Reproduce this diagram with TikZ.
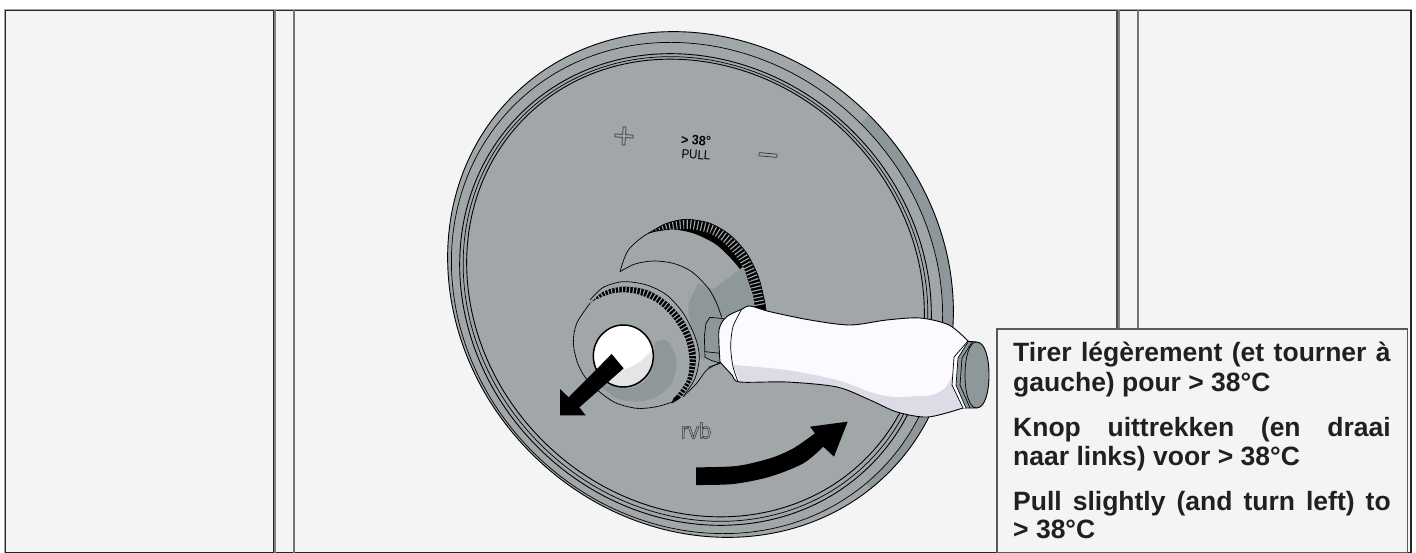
\documentclass[tikz,border=0pt]{standalone}
\usepackage{fontspec}
\usetikzlibrary{calc}
\setmainfont{Liberation Sans}
\definecolor{paper}{HTML}{F4F4F4}
\definecolor{metal}{HTML}{A1A6A9}
\definecolor{metald}{HTML}{8E9799}
\definecolor{white1}{HTML}{FBFAFF}
\definecolor{lav}{HTML}{DDDBE6}
\definecolor{ink}{HTML}{231F20}
\newcommand{\discouter}{(700.5,284.5) ellipse [x radius=266,y radius=239,rotate=-45]}
\newcommand{\rimB}{(697,288) ellipse [x radius=258.5,y radius=232,rotate=-45]}
\tikzset{
  edge/.style={draw=black,line width=.9pt},
  thinline/.style={draw=black,line width=.7pt},
  zfive/.style={shift={(540,200)},scale=0.33333},
  ztwo/.style={shift={(520,270)},scale=0.33333},
  bodytext/.style={anchor=base west,inner sep=0pt,font=\fontsize{26.5}{30}\selectfont\bfseries,text=ink},
  teeth/.style={draw=metal,line width=11pt,dash pattern=on 1.1pt off 2.5pt},
}
\begin{document}
\begin{tikzpicture}[x=1pt,y=-1pt]
\useasboundingbox (0,0) rectangle (1416,553);
\fill[white] (0,0) rectangle (1416,553);
% frame
\coordinate (ftl) at (5,10);\coordinate (fbr) at (1411,553);
\draw[draw=gray!70,line width=2.4pt,fill=paper] (ftl) rectangle (fbr);
\draw[draw=black!85,line width=1.2pt] ($(ftl)+(0.5,0.5)$) rectangle (fbr);
\foreach \xa/\cola/\wa in {275/gray/2,273.5/black!85/1.2,294/black!55/1.6,1118.5/gray/2,1117/black!70/1.4,1138/black!55/1.6}{
  \draw[draw=\cola,line width=\wa pt] (\xa,10) -- (\xa,553);
}
% disc
\fill[metal] \discouter;
\begin{scope}
  \clip (700,285) -- (872,112) -- (1000,150) -- (1000,520) -- (880,500) -- cycle;
  \fill[metald] \discouter;
\end{scope}
\fill[metal] \rimB;
\draw[edge] \discouter;
\draw[thinline] \rimB;
\draw[edge] (695.5,289.5) ellipse [x radius=248,y radius=223,rotate=-45];
\draw[thinline] (695.5,289) ellipse [x radius=244.5,y radius=219.5,rotate=-45];
\draw[edge] (695.5,288) ellipse [x radius=241,y radius=216,rotate=-45];
% markings
\node (gt) at (696,140.5) [inner sep=0pt,rotate=-4,xscale=.93,font=\fontsize{13.5}{14}\selectfont\bfseries,text=black] {> 38°};
\node (pull) at (696,155) [inner sep=0pt,rotate=-4,xscale=.89,font=\fontsize{13}{13}\selectfont,text=black] {PULL};
\draw[draw=black!80,line width=.7pt,shift={(624,136)},rotate=-4]
 (-1.5,-9) -- (1.5,-9) -- (1.5,-1.5) -- (9,-1.5) -- (9,1.5) -- (1.5,1.5) -- (1.5,9) -- (-1.5,9) -- (-1.5,1.5) -- (-9,1.5) -- (-9,-1.5) -- (-1.5,-1.5) -- cycle;
\draw[draw=black!80,line width=.7pt,shift={(768,155)},rotate=-5] (-9,-1.6) rectangle (9,1.6);
\node (logo) at (696,430.5) [inner sep=0pt,font=\fontsize{22}{23}\selectfont,text=black!80] {\special{pdf:code 1 Tr 0.5 w}rvb\special{pdf:code 0 Tr}};
% knob back
\begin{scope}[zfive]
  \fill[metal] plot[smooth] coordinates {(240,215)(265,150)(325,100)(390,88)(460,100)(530,135)(590,195)(630,260)(640,330)} -- (560,500) -- (400,600) -- (150,400) -- cycle;
  \begin{scope}
  \clip plot[smooth] coordinates {(325,100)(380,70)(440,58)(510,70)(570,105)(620,160)(655,230)(675,310)(678,340)} -- plot[smooth] coordinates {(640,330)(630,260)(590,195)(530,135)(460,100)(390,88)(325,100)} -- cycle;
  \fill[black] (300,40) rectangle (700,350);
  \draw[teeth] plot[smooth] coordinates {(325,96)(385,76)(445,70)(515,85)(565,118)(610,172)(642,240)(660,320)};
  \end{scope}
  \draw[thinline] plot[smooth] coordinates {(240,215)(265,150)(325,100)(390,88)};
  \draw[thinline] plot[smooth] coordinates {(325,100)(380,70)(440,58)(510,70)(570,105)(620,160)(655,230)(675,310)(678,340)};
  % facet
  \fill[metald] (610,200) -- (640,290) -- (645,335) -- (550,350) -- (500,370) -- (495,480) -- (470,470) -- (445,340) -- (445,310) -- (475,250) -- (520,268) -- cycle;
  \draw[thinline] plot[smooth] coordinates {(240,215)(285,192)(340,183)(400,190)(455,215)(505,265)(530,310)(545,352)};
  \draw[thinline] plot[smooth] coordinates {(535,490)(500,510)(470,550)(430,590)};
  % collar
  \fill[metal] plot[smooth cycle] coordinates {(150,300)(190,262)(250,245)(320,255)(380,285)(430,340)(465,410)(478,470)(465,535)(430,590)(350,625)(220,605)(130,500)};
  \draw[thinline] plot[smooth] coordinates {(150,300)(190,262)(250,245)(320,255)(380,285)(430,340)(465,410)(478,470)(465,535)(430,590)};
  % teeth band
  \begin{scope}
  \clip plot[smooth] coordinates {(150,310)(190,275)(250,260)(320,270)(380,305)(430,360)(460,425)(468,480)(455,540)(425,590)(395,610)} -- plot[smooth] coordinates {(400,595)(440,540)(448,480)(435,415)(395,350)(345,305)(280,280)(220,280)(175,300)(150,315)} -- cycle;
  \fill[black] (130,240) rectangle (490,620);
  \draw[teeth,line width=9pt] plot[smooth] coordinates {(150,312)(195,278)(250,270)(320,282)(385,327)(432,388)(455,452)(458,480)(448,540)(415,592)};
  \end{scope}
  % front face
  \fill[metal] plot[smooth cycle] coordinates {(100,430)(110,370)(150,310)(220,280)(280,280)(345,305)(395,350)(435,415)(448,480)(440,540)(400,595)(350,620)(290,625)(220,605)(150,550)(115,495)};
  \draw[draw=black,line width=.8pt,dash pattern=on 2.6pt off .5pt] plot[smooth] coordinates {(150,310)(110,370)(100,430)(115,495)(150,550)(220,605)(290,625)(350,620)(400,605)};
  % shade
  \fill[metald] plot[smooth] coordinates {(345,425)(375,420)(395,440)(410,490)(395,550)(350,590)(290,605)(230,595)(185,560)} -- plot[smooth] coordinates {(220,555)(270,565)(320,540)(340,490)(345,425)} -- cycle;
  % hole
  \fill[white] (250,468) ellipse [x radius=90,y radius=93];
  \begin{scope}
  \clip (250,468) ellipse [x radius=90,y radius=93];
  \fill[black!10] plot[smooth] coordinates {(345,440)(300,485)(250,510)(165,530)} -- (165,600) -- (360,600) -- cycle;
  \end{scope}
  \draw[draw=black,line width=1.5pt] (250,468) ellipse [x radius=90,y radius=93];
  % straight arrow
  \fill[black] (215,462) -- (251,505) -- (118,622) -- (137,646) -- (60,646) -- (60,567) -- (86,592) -- cycle;
\end{scope}
% stub
\begin{scope}[ztwo]
  \fill[metald] (570,142) -- (612,146) -- (612,282) -- (575,272) -- (555,262) -- (553,200) -- (558,160) -- cycle;
  \draw[thinline] (612,146) -- (570,142) -- (558,160) -- (553,200) -- (555,262) -- (575,272) -- (612,282);
  \draw[thinline] (555,245) -- (600,250);
  \draw[thinline] (565,292) -- (600,280);
\end{scope}
% handle
\fill[metald] (964,341) -- (976.5,342) .. controls (985,342) and (989,358) .. (989,375) .. controls (989,392) and (985,408) .. (976.5,408) -- (963,408) -- (952,385) -- (954,357) -- cycle;
\draw[edge] (964,341) -- (976.5,342) .. controls (985,342) and (989,358) .. (989,375) .. controls (989,392) and (985,408) .. (976.5,408) -- (963,408);
\draw[thinline] (976.5,342) .. controls (969,342) and (965,358) .. (965,375) .. controls (965,392) and (969,408) .. (976.5,408);
\fill[white1] (964,341) -- (968,342) -- (958,358) -- (956,385) -- (966,408) -- (963,408) -- (952,385) -- (954,357) -- cycle;
\draw[thinline] (968,342) -- (958,358) -- (956,385) -- (966,408);
\draw[thinline] (972,342) -- (962,358) -- (960,385) -- (970,408);
\fill[white1] plot[smooth] coordinates {(720,362)(719,330)(726.7,316.7)(741.7,309.3)(750,306)(770,311.7)(810,320)(850,325)(886.7,320)(920,318)(949,325)(968,341)} -- (954,357) -- (952,385) -- (963,408) -- plot[smooth] coordinates {(963,408)(928,417)(897,412)(870,400)(837,387)(787,382)(740,382)(732,375)(720,362)} -- cycle;
\fill[lav] plot[smooth] coordinates {(733,365)(787,370)(837,380)(870,392)(893,397)(920,396)(932,395)(945,388)(954,372)} -- (952,385) -- (963,408) -- plot[smooth] coordinates {(963,408)(928,417)(897,412)(870,400)(837,387)(787,382)(740,382)} -- cycle;
\draw[edge] plot[smooth] coordinates {(720,362)(719,330)(726.7,316.7)(741.7,309.3)(750,306)(770,311.7)(810,320)(850,325)(886.7,320)(920,318)(949,325)(968,341)};
\draw[edge] plot[smooth] coordinates {(963,408)(928,417)(897,412)(870,400)(837,387)(787,382)(740,382)(732,375)(720,362)};
\draw[thinline] (968,341) -- (954,357) -- (952,385) -- (963,408);
\draw[thinline] plot[smooth] coordinates {(741.7,309.3)(733,326.7)(730.7,346.7)(733,366.7)(738,381.7)};
% curved arrow
\begin{scope}[ztwo]
  \fill[black] plot[smooth] coordinates {(528,592)(650,588)(750,565)(820,535)(885,490)} -- (870,470) -- (983,455) -- (942,560) -- (910,530) -- plot[smooth] coordinates {(910,530)(850,580)(750,620)(640,642)(528,645)} -- cycle;
\end{scope}
% text box
\draw[draw=black!65,line width=1.5pt,fill=paper] (997,329) rectangle (1407.5,552.5);
\node (l1) at (1013,361.5) [bodytext] {\makebox[377.5pt][s]{Tirer légèrement (et tourner à}};
\node (l2) at (1013,391.5) [bodytext] {gauche) pour > 38°C};
\node (l3) at (1013,436) [bodytext] {\makebox[377.5pt][s]{Knop uittrekken (en draai}};
\node (l4) at (1013,465) [bodytext] {naar links) voor > 38°C};
\node (l5) at (1013,510) [bodytext] {\makebox[377.5pt][s]{Pull slightly (and turn left) to}};
\node (l6) at (1013,538.5) [bodytext] {> 38°C};
\end{tikzpicture}
\end{document}
